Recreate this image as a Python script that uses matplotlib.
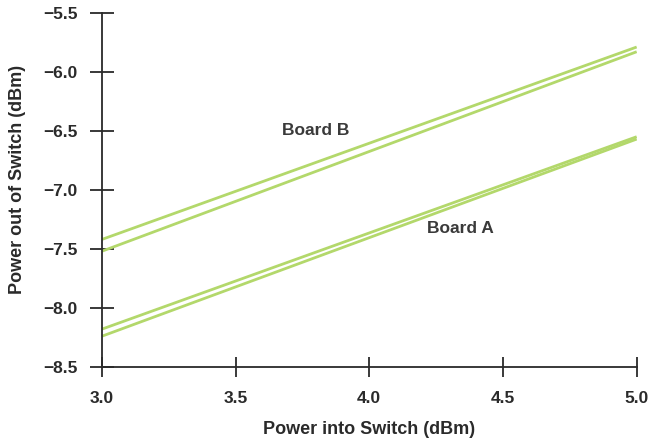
import matplotlib
matplotlib.use('agg')
import matplotlib.pyplot as plt
import numpy as np

plt.rcParams['font.family'] = ['Liberation Sans', 'DejaVu Sans']

x_in = [3.0, 5.0]
board_b_upper = [-7.42, -5.79]
board_b_lower = [-7.52, -5.83]
board_a_upper = [-8.18, -6.55]
board_a_lower = [-8.24, -6.57]
x_ticks = [3.0, 3.5, 4.0, 4.5, 5.0]
y_ticks = [-8.5, -8.0, -7.5, -7.0, -6.5, -6.0, -5.5]

line_color = "#b3d86b"
ink = "#2a2a2a"

fig = plt.figure(figsize=(6.49, 4.41), dpi=100)
ax = fig.add_axes([0.157, 0.168, 0.824, 0.803])

for ys in (board_b_upper, board_b_lower, board_a_upper, board_a_lower):
    ax.plot(x_in, ys, "-", lw=2.0, color=line_color, solid_capstyle="butt")

ax.text(3.80, -6.495, "Board B", ha="center", va="center", fontsize=12.5,
        fontweight="bold", color="#3a3a3a")
ax.text(4.34, -7.33, "Board A", ha="center", va="center", fontsize=12.5,
        fontweight="bold", color="#3a3a3a")

ax.set_xlim(3.0, 5.0)
ax.set_ylim(-8.5, -5.5)
ax.set_xticks(x_ticks)
ax.set_yticks(y_ticks)
ax.set_xticklabels(["%.1f" % v for v in x_ticks])
ax.set_yticklabels(["\u2212%.1f" % abs(v) for v in y_ticks])

for side in ("top", "right"):
    ax.spines[side].set_visible(False)
for side in ("left", "bottom"):
    ax.spines[side].set_color(ink)
    ax.spines[side].set_linewidth(1.3)

ax.tick_params(axis="both", direction="inout", width=1.3,
               color=ink, labelsize=12.5, labelcolor=ink)
ax.tick_params(axis="y", length=17, pad=9)
ax.tick_params(axis="x", length=15, pad=10)
for lab in ax.get_xticklabels() + ax.get_yticklabels():
    lab.set_fontweight("bold")

ax.set_xlabel("Power into Switch (dBm)", fontsize=13, fontweight="bold",
              color=ink, labelpad=11)
ax.set_ylabel("Power out of Switch (dBm)", fontsize=13, fontweight="bold",
              color=ink)
ax.yaxis.set_label_coords(-0.142, 0.53)

fig.savefig("out.png", dpi=100)
